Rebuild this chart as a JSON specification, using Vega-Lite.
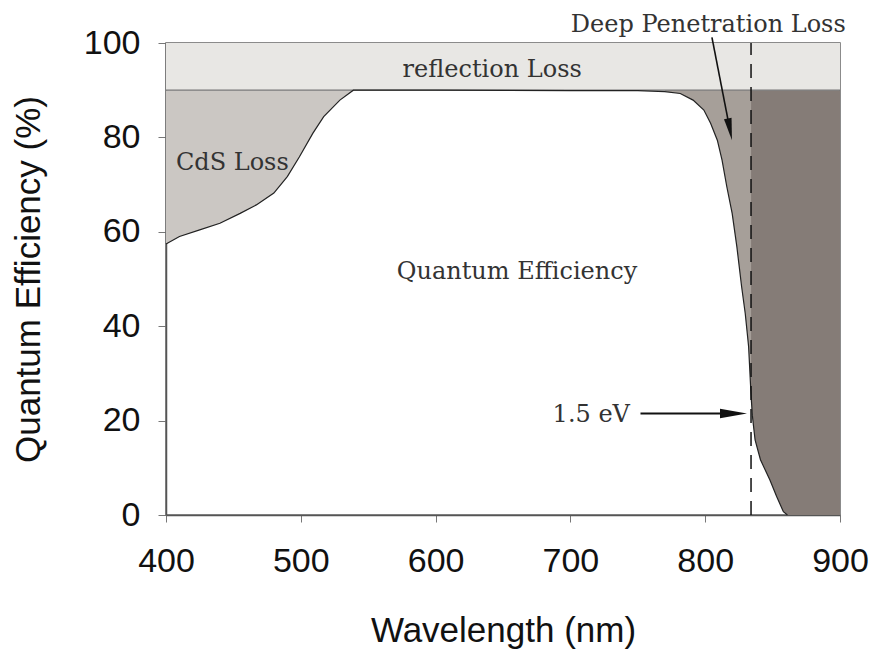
{
  "$schema": "https://vega.github.io/schema/vega-lite/v6.json",
  "width": 674,
  "height": 472,
  "autosize": {"type": "none"},
  "padding": {"left": 166, "top": 43, "right": 33, "bottom": 137},
  "background": "white",
  "data": {"values": [{}]},
  "config": {
    "view": {"stroke": "#666", "strokeWidth": 1.5},
    "axis": {"grid": false, "labelFont": "Liberation Sans", "titleFont": "Liberation Sans", "labelColor": "#111", "titleColor": "#111", "titleFontWeight": "normal", "labelFontSize": 34, "titleFontSize": 35, "tickColor": "#777", "domainColor": "#555", "domainWidth": 1.5, "labelFlush": false, "labelOverlap": false}
  },
  "datasets": {
    "qe": [
      {"wl": 400, "qe": 57.4}, {"wl": 410, "qe": 59.0}, {"wl": 425, "qe": 60.4}, {"wl": 440, "qe": 61.8},
      {"wl": 455, "qe": 63.9}, {"wl": 467, "qe": 65.7}, {"wl": 480, "qe": 68.2}, {"wl": 490, "qe": 71.7},
      {"wl": 499, "qe": 75.9}, {"wl": 509, "qe": 80.9}, {"wl": 517, "qe": 84.4}, {"wl": 529, "qe": 87.9},
      {"wl": 539, "qe": 90}, {"wl": 600, "qe": 90}, {"wl": 700, "qe": 89.9}, {"wl": 750, "qe": 89.9},
      {"wl": 770, "qe": 89.7}, {"wl": 781.5, "qe": 89.3}, {"wl": 791, "qe": 87.9}, {"wl": 799, "qe": 85.8},
      {"wl": 804, "qe": 83.0}, {"wl": 809, "qe": 79.4}, {"wl": 812.5, "qe": 75.2}, {"wl": 816, "qe": 69.6},
      {"wl": 820, "qe": 63.9}, {"wl": 823.5, "qe": 56.8}, {"wl": 827, "qe": 48.4}, {"wl": 829.7, "qe": 42.7},
      {"wl": 832.2, "qe": 35.7}, {"wl": 834, "qe": 25.5}, {"wl": 835, "qe": 21.0}, {"wl": 837, "qe": 15.9},
      {"wl": 841, "qe": 11.7}, {"wl": 848, "qe": 7.4}, {"wl": 853, "qe": 3.9}, {"wl": 858, "qe": 0.7},
      {"wl": 861, "qe": 0}, {"wl": 900, "qe": 0}
    ]
  },
  "layer": [
    {
      "mark": {"type": "rect", "fill": "#e8e7e4"},
      "encoding": {
        "x": {"datum": 400, "type": "quantitative", "scale": {"domain": [400, 900], "nice": false, "zero": false},
              "axis": {"values": [400, 500, 600, 700, 800, 900], "tickSize": 7, "labelPadding": 22, "titleX": 337, "titleY": 126, "titleBaseline": "alphabetic"},
              "title": "Wavelength (nm)"},
        "x2": {"datum": 900},
        "y": {"datum": 90, "type": "quantitative", "scale": {"domain": [0, 100], "nice": false},
              "axis": {"values": [0, 20, 40, 60, 80, 100], "tickSize": 8, "labelPadding": 18, "titleX": -127, "titleY": 236, "titleAngle": -90, "titleAlign": "center", "titleBaseline": "alphabetic"},
              "title": "Quantum Efficiency (%)"},
        "y2": {"datum": 100}
      }
    },
    {
      "data": {"name": "qe"},
      "transform": [{"filter": {"field": "wl", "range": [400, 539]}}],
      "mark": {"type": "area", "fill": "#cbc7c3"},
      "encoding": {
        "x": {"field": "wl", "type": "quantitative", "title": "Wavelength (nm)"},
        "y": {"field": "qe", "type": "quantitative", "title": "Quantum Efficiency (%)"},
        "y2": {"datum": 90}
      }
    },
    {
      "data": {"name": "qe"},
      "transform": [{"filter": {"field": "wl", "range": [770, 834]}}],
      "mark": {"type": "area", "fill": "#a69f99"},
      "encoding": {
        "x": {"field": "wl", "type": "quantitative", "title": "Wavelength (nm)"},
        "y": {"field": "qe", "type": "quantitative", "title": "Quantum Efficiency (%)"},
        "y2": {"datum": 90}
      }
    },
    {
      "data": {"name": "qe"},
      "transform": [{"filter": {"field": "wl", "range": [834, 900]}}],
      "mark": {"type": "area", "fill": "#857c77"},
      "encoding": {
        "x": {"field": "wl", "type": "quantitative", "title": "Wavelength (nm)"},
        "y": {"field": "qe", "type": "quantitative", "title": "Quantum Efficiency (%)"},
        "y2": {"datum": 90}
      }
    },
    {
      "mark": {"type": "rule", "color": "#777", "strokeWidth": 1.3},
      "encoding": {"x": {"datum": 400}, "x2": {"datum": 900}, "y": {"datum": 90}}
    },
    {
      "data": {"name": "qe"},
      "transform": [{"filter": {"field": "wl", "range": [400, 861]}}],
      "mark": {"type": "line", "color": "#222", "strokeWidth": 1.2},
      "encoding": {
        "x": {"field": "wl", "type": "quantitative", "title": "Wavelength (nm)"},
        "y": {"field": "qe", "type": "quantitative", "title": "Quantum Efficiency (%)"}
      }
    },
    {
      "mark": {"type": "rule", "color": "#111", "strokeWidth": 1.5, "strokeDash": [14, 9]},
      "encoding": {"x": {"datum": 834}, "y": {"datum": 0}, "y2": {"datum": 100}}
    },
    {
      "mark": {"type": "rule", "color": "#111", "strokeWidth": 2},
      "encoding": {"x": {"datum": 752}, "x2": {"datum": 821}, "y": {"datum": 21.5}}
    },
    {
      "mark": {"type": "point", "shape": "M -1 -0.35 L 1 0 L -1 0.35 Z", "filled": true, "color": "#111", "size": 729, "opacity": 1},
      "encoding": {"x": {"datum": 821}, "y": {"datum": 21.5}}
    },
    {
      "mark": {"type": "rule", "color": "#111", "strokeWidth": 1.6},
      "encoding": {"x": {"datum": 805}, "x2": {"datum": 818.3}, "y": {"datum": 101.2}, "y2": {"datum": 81.7}}
    },
    {
      "mark": {"type": "point", "shape": "M -0.35 -1 L 0 1 L 0.35 -1 Z", "filled": true, "color": "#111", "size": 484, "angle": -11, "opacity": 1},
      "encoding": {"x": {"datum": 818.3}, "y": {"datum": 81.7}}
    },
    {
      "mark": {"type": "text", "font": "DejaVu Serif", "fontSize": 24, "color": "#333", "align": "center", "baseline": "alphabetic"},
      "encoding": {"x": {"datum": 642}, "y": {"datum": 92.9}, "text": {"value": "reflection Loss"}}
    },
    {
      "mark": {"type": "text", "font": "DejaVu Serif", "fontSize": 24, "color": "#333", "align": "center", "baseline": "alphabetic"},
      "encoding": {"x": {"datum": 449.2}, "y": {"datum": 73.1}, "text": {"value": "CdS Loss"}}
    },
    {
      "mark": {"type": "text", "font": "DejaVu Serif", "fontSize": 24, "color": "#333", "align": "center", "baseline": "alphabetic"},
      "encoding": {"x": {"datum": 660.4}, "y": {"datum": 50.1}, "text": {"value": "Quantum Efficiency"}}
    },
    {
      "mark": {"type": "text", "font": "DejaVu Serif", "fontSize": 24, "color": "#333", "align": "center", "baseline": "alphabetic"},
      "encoding": {"x": {"datum": 715.5}, "y": {"datum": 19.8}, "text": {"value": "1.5 eV"}}
    },
    {
      "mark": {"type": "text", "font": "DejaVu Serif", "fontSize": 24, "color": "#333", "align": "center", "baseline": "alphabetic"},
      "encoding": {"x": {"datum": 802.3}, "y": {"datum": 102.3}, "text": {"value": "Deep Penetration Loss"}}
    }
  ]
}
